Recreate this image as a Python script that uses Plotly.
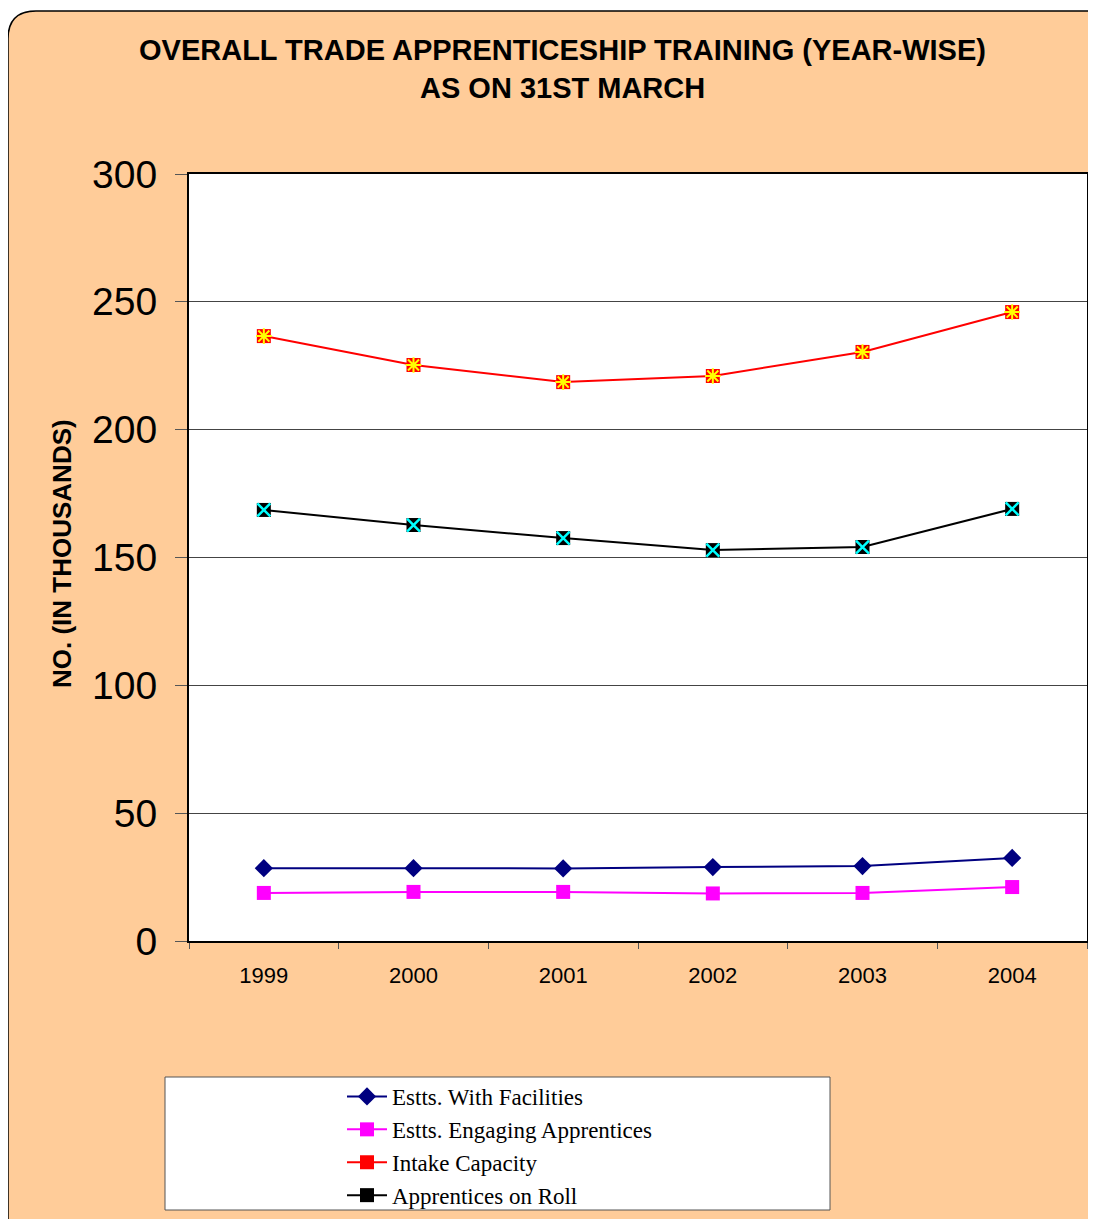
import plotly.graph_objects as go

years = ["1999", "2000", "2001", "2002", "2003", "2004"]
with_facilities = [28.5, 28.5, 28.4, 28.9, 29.3, 32.5]
engaging = [18.8, 19.2, 19.2, 18.6, 18.8, 21.1]
intake = [236.6, 225.3, 218.6, 221.0, 230.4, 246.0]
on_roll = [168.6, 162.7, 157.6, 152.9, 154.1, 169.0]
y_ticks = [0, 50, 100, 150, 200, 250, 300]

# page offset (browser body margin) compensation
O = 8
W, H = 1080, 1219 - O
L, R, T, B = 189 - O, 1087 - O, 174 - O, 941 - O
pw, ph = R - L, B - T


def px(x):
    return (x - O - L) / pw


def py(y):
    return (B - (y - O)) / ph


fig = go.Figure()

fig.add_trace(go.Scatter(x=years, y=with_facilities, mode="lines+markers",
                         name="Estts. With Facilities",
                         line=dict(color="#000080", width=2),
                         marker=dict(symbol="diamond", size=14, color="#000080")))
fig.add_trace(go.Scatter(x=years, y=engaging, mode="lines+markers",
                         name="Estts. Engaging Apprentices",
                         line=dict(color="#FF00FF", width=2),
                         marker=dict(symbol="square", size=14, color="#FF00FF")))
fig.add_trace(go.Scatter(x=years, y=intake, mode="lines+markers",
                         name="Intake Capacity",
                         line=dict(color="#FF0000", width=2),
                         marker=dict(symbol="square", size=14, color="#FF0000")))
fig.add_trace(go.Scatter(x=years, y=intake, mode="markers", showlegend=False,
                         hoverinfo="skip",
                         marker=dict(symbol="asterisk-open", size=13, color="#FFFF00",
                                     line=dict(color="#FFFF00", width=2))))
fig.add_trace(go.Scatter(x=years, y=on_roll, mode="lines+markers",
                         name="Apprentices on Roll",
                         line=dict(color="#000000", width=2),
                         marker=dict(symbol="square", size=14, color="#000000")))
fig.add_trace(go.Scatter(x=years, y=on_roll, mode="markers", showlegend=False,
                         hoverinfo="skip",
                         marker=dict(symbol="x-thin-open", size=13, color="#00FFFF",
                                     line=dict(color="#00FFFF", width=2.5))))

# rounded background panel
x0, x1 = px(8), px(1130)
y0, y1 = py(11), py(1250)
rx, ry = 28 / pw, 28 / ph
path = (f"M {x0+rx} {y0} L {x1-rx} {y0} Q {x1} {y0} {x1} {y0-ry} "
        f"L {x1} {y1+ry} Q {x1} {y1} {x1-rx} {y1} L {x0+rx} {y1} "
        f"Q {x0} {y1} {x0} {y1+ry} L {x0} {y0-ry} Q {x0} {y0} {x0+rx} {y0} Z")
fig.add_shape(type="path", path=path, xref="paper", yref="paper",
              fillcolor="#FFCC99", line=dict(color="#000000", width=1.5), layer="below")
# white plot area
fig.add_shape(type="rect", xref="paper", yref="paper", x0=0, x1=1, y0=0, y1=1,
              fillcolor="white", line=dict(width=0), layer="below")
# legend box
fig.add_shape(type="rect", xref="paper", yref="paper",
              x0=px(165), x1=px(830), y0=py(1077), y1=py(1210),
              fillcolor="white", line=dict(color="#555555", width=1), layer="below")

title_font = dict(family="Liberation Sans, Arial", size=29, color="black")
fig.add_annotation(text="<b>OVERALL TRADE APPRENTICESHIP TRAINING (YEAR-WISE)</b>",
                   x=px(562), y=py(50), xref="paper", yref="paper", showarrow=False,
                   font=title_font, xanchor="center", yanchor="middle")
fig.add_annotation(text="<b>AS ON 31ST MARCH</b>",
                   x=px(562), y=py(88), xref="paper", yref="paper", showarrow=False,
                   font=title_font, xanchor="center", yanchor="middle")
fig.add_annotation(text="<b>NO. (IN THOUSANDS)</b>", textangle=-90,
                   x=px(62), y=py(553), xref="paper", yref="paper", showarrow=False,
                   font=dict(family="Liberation Sans, Arial", size=26, color="black"),
                   xanchor="center", yanchor="middle")

fig.update_layout(
    width=W, height=H,
    margin=dict(l=L, r=W - R, t=T, b=H - B, pad=0, autoexpand=False),
    paper_bgcolor="white", plot_bgcolor="white",
    showlegend=True,
    legend=dict(x=px(342), y=py(1075), xanchor="left", yanchor="top",
                bgcolor="rgba(0,0,0,0)", borderwidth=0,
                font=dict(family="Liberation Serif, Times New Roman", size=23, color="black"),
                tracegroupgap=0, itemwidth=40),
    xaxis=dict(type="category", range=[-0.5, 5.5], tickson="boundaries", automargin=False,
               ticks="outside", ticklen=6, tickcolor="#555555", ticklabelstandoff=14,
               showline=True, linecolor="black", linewidth=2, mirror=True,
               showgrid=False, zeroline=False,
               tickfont=dict(family="Liberation Sans, Arial", size=22, color="black")),
    yaxis=dict(range=[0, 300], tickvals=y_ticks, ticks="outside", ticklen=12, automargin=False,
               tickcolor="#555555", ticklabelstandoff=10,
               showline=True, linecolor="black", linewidth=2,
               mirror=True, showgrid=True, gridcolor="#444444", gridwidth=1,
               zeroline=False,
               tickfont=dict(family="Liberation Sans, Arial", size=39, color="black")),
)

fig.write_html("out.html")
